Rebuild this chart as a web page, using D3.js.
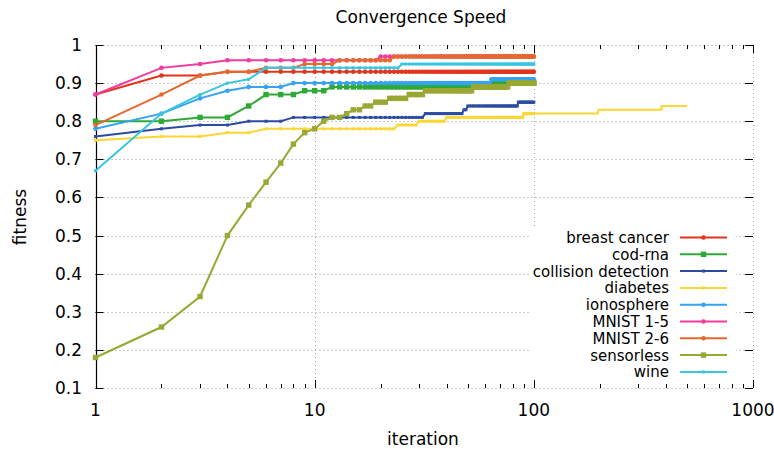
<!DOCTYPE html>
<html><head><meta charset="utf-8">
<script src="https://cdn.jsdelivr.net/npm/d3@7"></script>
<style>body{margin:0;background:#fff}svg{display:block}text{font-family:"DejaVu Sans",sans-serif;fill:#000}</style>
</head><body><svg id="c" width="774" height="449"></svg>
<script>
const titleText = "Convergence Speed";
const xLabel = "iteration";
const yLabel = "fitness";
const xTicks = [1, 10, 100, 1000];
const yTicks = [0.1, 0.2, 0.3, 0.4, 0.5, 0.6, 0.7, 0.8, 0.9, 1];
const seriesNames = ["breast cancer","cod-rna","collision detection","diabetes","ionosphere","MNIST 1-5","MNIST 2-6","sensorless","wine"];
const seriesColors = ["#e2341d","#2ea836","#2b4ba3","#fbd634","#36a2f3","#f43a9d","#e5692f","#99a834","#38c5e2"];
const seriesMarkers = ["circle","square","dot","dot","circle","circle","circle","square","dot"];
const iterations = d3.range(1, 101);
const breastCancer = [
0.87,0.92,0.92,0.93,0.93,0.93,0.93,0.93,0.93,0.93,
0.93,0.93,0.93,0.93,0.93,0.93,0.93,0.93,0.93,0.93,
0.93,0.93,0.93,0.93,0.93,0.93,0.93,0.93,0.93,0.93,
0.93,0.93,0.93,0.93,0.93,0.93,0.93,0.93,0.93,0.93,
0.93,0.93,0.93,0.93,0.93,0.93,0.93,0.93,0.93,0.93,
0.93,0.93,0.93,0.93,0.93,0.93,0.93,0.93,0.93,0.93,
0.93,0.93,0.93,0.93,0.93,0.93,0.93,0.93,0.93,0.93,
0.93,0.93,0.93,0.93,0.93,0.93,0.93,0.93,0.93,0.93,
0.93,0.93,0.93,0.93,0.93,0.93,0.93,0.93,0.93,0.93,
0.93,0.93,0.93,0.93,0.93,0.93,0.93,0.93,0.93,0.93];
const codRna = [
0.80,0.80,0.81,0.81,0.84,0.87,0.87,0.87,0.88,0.88,
0.88,0.89,0.89,0.89,0.89,0.89,0.89,0.89,0.89,0.89,
0.89,0.89,0.89,0.89,0.89,0.89,0.89,0.89,0.89,0.89,
0.89,0.89,0.89,0.89,0.89,0.89,0.89,0.89,0.89,0.89,
0.89,0.89,0.89,0.89,0.89,0.89,0.89,0.89,0.89,0.89,
0.89,0.89,0.89,0.89,0.89,0.89,0.89,0.89,0.89,0.89,
0.89,0.89,0.89,0.89,0.90,0.90,0.90,0.90,0.90,0.90,
0.90,0.90,0.90,0.90,0.90,0.90,0.90,0.90,0.90,0.90,
0.90,0.90,0.90,0.90,0.90,0.90,0.90,0.90,0.90,0.90,
0.90,0.90,0.90,0.90,0.90,0.90,0.90,0.90,0.90,0.90];
const collisionDetection = [
0.76,0.78,0.79,0.79,0.80,0.80,0.80,0.81,0.81,0.81,
0.81,0.81,0.81,0.81,0.81,0.81,0.81,0.81,0.81,0.81,
0.81,0.81,0.81,0.81,0.81,0.81,0.81,0.81,0.81,0.81,
0.81,0.82,0.82,0.82,0.82,0.82,0.82,0.82,0.82,0.82,
0.82,0.82,0.82,0.82,0.82,0.82,0.82,0.83,0.83,0.84,
0.84,0.84,0.84,0.84,0.84,0.84,0.84,0.84,0.84,0.84,
0.84,0.84,0.84,0.84,0.84,0.84,0.84,0.84,0.84,0.84,
0.84,0.84,0.84,0.84,0.84,0.84,0.84,0.84,0.84,0.84,
0.84,0.84,0.84,0.84,0.85,0.85,0.85,0.85,0.85,0.85,
0.85,0.85,0.85,0.85,0.85,0.85,0.85,0.85,0.85,0.85];
const diabetes = [
0.75,0.76,0.76,0.77,0.77,0.78,0.78,0.78,0.78,0.78,
0.78,0.78,0.78,0.78,0.78,0.78,0.78,0.78,0.78,0.78,
0.78,0.78,0.78,0.79,0.79,0.79,0.79,0.79,0.79,0.80,
0.80,0.80,0.80,0.80,0.80,0.80,0.80,0.80,0.80,0.81,
0.81,0.81,0.81,0.81,0.81,0.81,0.81,0.81,0.81,0.81,
0.81,0.81,0.81,0.81,0.81,0.81,0.81,0.81,0.81,0.81,
0.81,0.81,0.81,0.81,0.81,0.81,0.81,0.81,0.81,0.81,
0.81,0.81,0.81,0.81,0.81,0.81,0.81,0.81,0.81,0.81,
0.81,0.81,0.81,0.81,0.81,0.81,0.81,0.81,0.81,0.82,
0.82,0.82,0.82,0.82,0.82,0.82,0.82,0.82,0.82,0.82];
const diabetesTailIter = [100, 196, 197, 382, 383, 500];
const diabetesTailVal = [0.82, 0.82, 0.83, 0.83, 0.84, 0.84];
const ionosphere = [
0.78,0.82,0.86,0.88,0.89,0.89,0.89,0.90,0.90,0.90,
0.90,0.90,0.90,0.90,0.90,0.90,0.90,0.90,0.90,0.90,
0.90,0.90,0.90,0.90,0.90,0.90,0.90,0.90,0.90,0.90,
0.90,0.90,0.90,0.90,0.90,0.90,0.90,0.90,0.90,0.90,
0.90,0.90,0.90,0.90,0.90,0.90,0.90,0.90,0.90,0.90,
0.90,0.90,0.90,0.90,0.90,0.90,0.90,0.90,0.90,0.90,
0.90,0.90,0.90,0.91,0.91,0.91,0.91,0.91,0.91,0.91,
0.91,0.91,0.91,0.91,0.91,0.91,0.91,0.91,0.91,0.91,
0.91,0.91,0.91,0.91,0.91,0.91,0.91,0.91,0.91,0.91,
0.91,0.91,0.91,0.91,0.91,0.91,0.91,0.91,0.91,0.91];
const mnist15 = [
0.87,0.94,0.95,0.96,0.96,0.96,0.96,0.96,0.96,0.96,
0.96,0.96,0.96,0.96,0.96,0.96,0.96,0.96,0.96,0.97,
0.97,0.97,0.97,0.97,0.97,0.97,0.97,0.97,0.97,0.97,
0.97,0.97,0.97,0.97,0.97,0.97,0.97,0.97,0.97,0.97,
0.97,0.97,0.97,0.97,0.97,0.97,0.97,0.97,0.97,0.97,
0.97,0.97,0.97,0.97,0.97,0.97,0.97,0.97,0.97,0.97,
0.97,0.97,0.97,0.97,0.97,0.97,0.97,0.97,0.97,0.97,
0.97,0.97,0.97,0.97,0.97,0.97,0.97,0.97,0.97,0.97,
0.97,0.97,0.97,0.97,0.97,0.97,0.97,0.97,0.97,0.97,
0.97,0.97,0.97,0.97,0.97,0.97,0.97,0.97,0.97,0.97];
const mnist26 = [
0.79,0.87,0.92,0.93,0.93,0.94,0.94,0.94,0.95,0.95,
0.95,0.95,0.96,0.96,0.96,0.96,0.96,0.96,0.96,0.96,
0.96,0.96,0.97,0.97,0.97,0.97,0.97,0.97,0.97,0.97,
0.97,0.97,0.97,0.97,0.97,0.97,0.97,0.97,0.97,0.97,
0.97,0.97,0.97,0.97,0.97,0.97,0.97,0.97,0.97,0.97,
0.97,0.97,0.97,0.97,0.97,0.97,0.97,0.97,0.97,0.97,
0.97,0.97,0.97,0.97,0.97,0.97,0.97,0.97,0.97,0.97,
0.97,0.97,0.97,0.97,0.97,0.97,0.97,0.97,0.97,0.97,
0.97,0.97,0.97,0.97,0.97,0.97,0.97,0.97,0.97,0.97,
0.97,0.97,0.97,0.97,0.97,0.97,0.97,0.97,0.97,0.97];
const sensorless = [
0.18,0.26,0.34,0.50,0.58,0.64,0.69,0.74,0.77,0.78,
0.80,0.81,0.81,0.82,0.83,0.83,0.84,0.84,0.85,0.85,
0.85,0.86,0.86,0.86,0.86,0.86,0.87,0.87,0.87,0.87,
0.87,0.88,0.88,0.88,0.88,0.88,0.88,0.88,0.88,0.88,
0.88,0.88,0.88,0.88,0.88,0.88,0.88,0.88,0.88,0.88,
0.88,0.88,0.89,0.89,0.89,0.89,0.89,0.89,0.89,0.89,
0.89,0.89,0.89,0.89,0.89,0.89,0.89,0.89,0.89,0.89,
0.89,0.89,0.89,0.89,0.89,0.89,0.90,0.90,0.90,0.90,
0.90,0.90,0.90,0.90,0.90,0.90,0.90,0.90,0.90,0.90,
0.90,0.90,0.90,0.90,0.90,0.90,0.90,0.90,0.90,0.90];
const wine = [
0.67,0.82,0.87,0.90,0.91,0.94,0.94,0.94,0.94,0.94,
0.94,0.94,0.94,0.94,0.94,0.94,0.94,0.94,0.94,0.94,
0.94,0.94,0.94,0.94,0.95,0.95,0.95,0.95,0.95,0.95,
0.95,0.95,0.95,0.95,0.95,0.95,0.95,0.95,0.95,0.95,
0.95,0.95,0.95,0.95,0.95,0.95,0.95,0.95,0.95,0.95,
0.95,0.95,0.95,0.95,0.95,0.95,0.95,0.95,0.95,0.95,
0.95,0.95,0.95,0.95,0.95,0.95,0.95,0.95,0.95,0.95,
0.95,0.95,0.95,0.95,0.95,0.95,0.95,0.95,0.95,0.95,
0.95,0.95,0.95,0.95,0.95,0.95,0.95,0.95,0.95,0.95,
0.95,0.95,0.95,0.95,0.95,0.95,0.95,0.95,0.95,0.95];
const seriesValues = [breastCancer, codRna, collisionDetection, diabetes, ionosphere, mnist15, mnist26, sensorless, wine];

const svg = d3.select("#c");
const x = d3.scaleLog().domain([1, 1000]).range([95.5, 753]);
const y = d3.scaleLinear().domain([0.1, 1]).range([388, 45]);
const [x0, x1] = x.range();
const [yb, yt] = y.range();

svg.append("rect").attr("width", 774).attr("height", 449).attr("fill", "#fff");

// grid
const grid = svg.append("g").attr("stroke", "#9a9a9a").attr("stroke-width", 1).attr("stroke-dasharray", "1,3");
grid.selectAll(".gy").data(yTicks).join("line")
  .attr("x1", x0).attr("x2", x1).attr("y1", d => Math.round(y(d)) + 0.5).attr("y2", d => Math.round(y(d)) + 0.5);
grid.selectAll(".gx").data(xTicks).join("line")
  .attr("x1", d => Math.round(x(d)) + 0.5).attr("x2", d => Math.round(x(d)) + 0.5).attr("y1", yt).attr("y2", yb);

// legend background (opaque key)
svg.append("rect").attr("x", 531).attr("y", 228).attr("width", 205).attr("height", 154).attr("fill", "#fff");

// ticks
const minor = [];
[1, 10, 100].forEach(b => { for (let k = 2; k <= 9; k++) minor.push(b * k); });
const tk = svg.append("g").attr("stroke", "#000").attr("stroke-width", 1);
const px = d => Math.round(x(d)) + 0.5;
const py = d => Math.round(y(d)) + 0.5;
minor.forEach(d => {
  tk.append("line").attr("x1", px(d)).attr("x2", px(d)).attr("y1", yb).attr("y2", yb - 4);
  tk.append("line").attr("x1", px(d)).attr("x2", px(d)).attr("y1", yt).attr("y2", yt + 4);
});
xTicks.forEach(d => {
  tk.append("line").attr("x1", px(d)).attr("x2", px(d)).attr("y1", yb).attr("y2", yb - 8);
  tk.append("line").attr("x1", px(d)).attr("x2", px(d)).attr("y1", yt).attr("y2", yt + 8);
});
yTicks.forEach(d => {
  tk.append("line").attr("x1", x0).attr("x2", x0 + 8).attr("y1", py(d)).attr("y2", py(d));
  tk.append("line").attr("x1", x1).attr("x2", x1 - 8).attr("y1", py(d)).attr("y2", py(d));
});
// left border
svg.append("line").attr("x1", Math.round(x0) + 0.5).attr("x2", Math.round(x0) + 0.5)
  .attr("y1", yt).attr("y2", yb + 0.5).attr("stroke", "#000").attr("stroke-width", 1.2);

// tick labels
svg.append("g").selectAll("text").data(yTicks).join("text")
  .attr("x", 82).attr("y", d => y(d) + 6).attr("text-anchor", "end").attr("font-size", 17)
  .text(d => d3.format("~g")(d));
svg.append("g").selectAll("text").data(xTicks).join("text")
  .attr("x", d => x(d)).attr("y", 416).attr("text-anchor", "middle").attr("font-size", 17)
  .text(d => d);

svg.append("text").attr("x", 421).attr("y", 23).attr("text-anchor", "middle").attr("font-size", 17).text(titleText);
svg.append("text").attr("x", 423).attr("y", 445).attr("text-anchor", "middle").attr("font-size", 17).text(xLabel);
svg.append("text").attr("transform", "translate(26,217) rotate(-90)").attr("text-anchor", "middle").attr("font-size", 17).text(yLabel);

function drawMarker(g, type, color, cx, cy) {
  if (type === "circle") g.append("circle").attr("cx", cx).attr("cy", cy).attr("r", 2.3).attr("fill", color);
  else if (type === "square") g.append("rect").attr("x", cx - 2.7).attr("y", cy - 2.7).attr("width", 5.4).attr("height", 5.4).attr("fill", color);
  else g.append("rect").attr("x", cx - 1.5).attr("y", cy - 1.5).attr("width", 3).attr("height", 3).attr("fill", color);
}

const line = d3.line().x(d => x(d[0])).y(d => y(d[1]));
seriesValues.forEach((vals, i) => {
  const g = svg.append("g");
  const pts = iterations.map((it, j) => [it, vals[j]]);
  g.append("path").attr("d", line(pts)).attr("fill", "none").attr("stroke", seriesColors[i]).attr("stroke-width", 2);
  if (i === 3) {
    g.append("path").attr("d", line(diabetesTailIter.map((it, j) => [it, diabetesTailVal[j]])))
      .attr("fill", "none").attr("stroke", seriesColors[i]).attr("stroke-width", 2);
  }
  pts.forEach(p => drawMarker(g, seriesMarkers[i], seriesColors[i], x(p[0]), y(p[1])));
});

// legend
const lg = svg.append("g");
seriesNames.forEach((n, i) => {
  const ry = 237.5 + i * 16.8;
  lg.append("text").attr("x", 669).attr("y", ry + 5.5).attr("text-anchor", "end").attr("font-size", 15).text(n);
  lg.append("line").attr("x1", 680).attr("x2", 727).attr("y1", ry).attr("y2", ry).attr("stroke", seriesColors[i]).attr("stroke-width", 2);
  drawMarker(lg, seriesMarkers[i], seriesColors[i], 703.5, ry);
});
</script></body></html>
